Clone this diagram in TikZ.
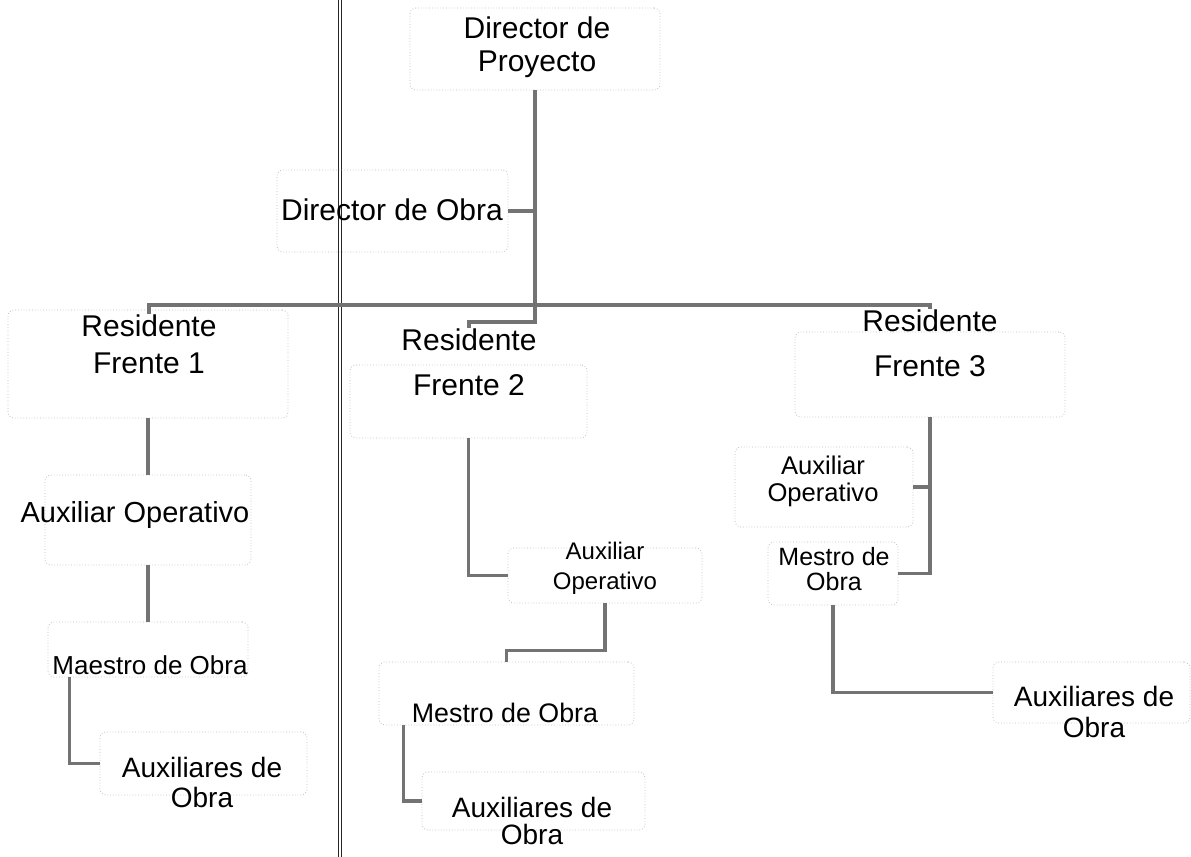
\documentclass[tikz,border=0pt]{standalone}
\usepackage{fontspec}
\setmainfont{Liberation Sans}
\usepackage{tikz}
\usepackage{xcolor}

\begin{document}
\begin{tikzpicture}[x=0.5pt, y=-0.5pt,
        box/.style={draw=gray!50, densely dotted, rounded corners=3pt, inner sep=0pt},
        lbl/.style={inner sep=0pt, align=center, text=black},
        link/.style={draw=black!55, line width=1.6pt}]
    \useasboundingbox (0,0) rectangle (1191,857);
    % divider
    \draw[black!85, double, line width=0.7pt, double distance=0.9pt] (340,0) -- (340,857);

    % boxes
    \node[box, minimum width=125pt, minimum height=41pt] (dpBox) at (535,49) {};
    \node[box, minimum width=115.5pt, minimum height=41pt] (doBox) at (392.5,211) {};
    \node[box, minimum width=140pt, minimum height=54pt] (r1Box) at (148,364) {};
    \node[box, minimum width=103pt, minimum height=45pt] (a1Box) at (148,520) {};
    \node[box, minimum width=100pt, minimum height=27.5pt] (m1Box) at (148,649.5) {};
    \node[box, minimum width=103.5pt, minimum height=31.5pt] (x1Box) at (203.5,763.5) {};
    \node[box, minimum width=118.5pt, minimum height=36.5pt] (r2Box) at (468.5,401.5) {};
    \node[box, minimum width=97pt, minimum height=27.5pt] (a2Box) at (605,575.5) {};
    \node[box, minimum width=127.5pt, minimum height=31.5pt] (m2Box) at (506.5,693.5) {};
    \node[box, minimum width=111.5pt, minimum height=29pt] (x2Box) at (533.5,801) {};
    \node[box, minimum width=135pt, minimum height=42.5pt] (r3Box) at (930,374.5) {};
    \node[box, minimum width=89pt, minimum height=40pt] (a3Box) at (824,487) {};
    \node[box, minimum width=65pt, minimum height=31.5pt] (m3Box) at (833,573.5) {};
    \node[box, minimum width=98.5pt, minimum height=30.5pt] (x3Box) at (1091.5,692.5) {};

    % texts
    \node[lbl, font=\fontsize{15}{16.5}\selectfont] (dpTxt) at (537,47) {Director de\\Proyecto};
    \node[lbl, font=\fontsize{15}{18}\selectfont] (doTxt) at (392,210) {Director de Obra};
    \node[lbl, font=\fontsize{15}{18.5}\selectfont] (r1Txt) at (149,344) {Residente\\Frente 1};
    \node[lbl, font=\fontsize{15}{22.5}\selectfont] (r2Txt) at (469,362) {Residente\\Frente 2};
    \node[lbl, font=\fontsize{15}{22.5}\selectfont] (r3Txt) at (930,343) {Residente\\Frente 3};
    \node[lbl, font=\fontsize{14.5}{17}\selectfont] (a1Txt) at (135,515) {Auxiliar Operativo};
    \node[lbl, font=\fontsize{13}{15}\selectfont] (m1Txt) at (150,665) {Maestro de Obra};
    \node[lbl, font=\fontsize{14}{15}\selectfont] (x1Txt) at (202,782) {Auxiliares de\\Obra};
    \node[lbl, font=\fontsize{12}{15}\selectfont] (a2Txt) at (605,568) {Auxiliar\\Operativo};
    \node[lbl, font=\fontsize{13.4}{15}\selectfont] (m2Txt) at (505,713) {Mestro de Obra};
    \node[lbl, font=\fontsize{14}{13.5}\selectfont] (x2Txt) at (532,821) {Auxiliares de\\Obra};
    \node[lbl, font=\fontsize{12.8}{13.5}\selectfont] (a3Txt) at (823,481) {Auxiliar\\Operativo};
    \node[lbl, font=\fontsize{12.5}{12.5}\selectfont] (m3Txt) at (834,569) {Mestro de\\Obra};
    \node[lbl, font=\fontsize{14}{15.5}\selectfont] (x3Txt) at (1094,712) {Auxiliares de\\Obra};

    % connectors
    \coordinate (barMid) at (535,305);
    \draw[link] (dpBox.south) -- (535,322) -| (r2Txt.north);
    \draw[link] (doBox.east) -- (doBox.east -| dpBox.south);
    \draw[link] (r1Txt.north) |- (barMid) -| (r3Txt.north);
    \draw[link] (r1Box) -- (a1Box);
    \draw[link] (a1Box) -- (m1Box);
    \draw[link] ([xshift=11pt]m1Box.south west) |- (x1Box.west);
    \draw[link] (r2Box.south) |- (a2Box.west);
    \draw[link] (a2Box.south) -- ++(0,47) -| (m2Box.north);
    \draw[link] ([xshift=12.5pt]m2Box.south west) |- (x2Box.west);
    \draw[link] (r3Box.south) |- (m3Box.east);
    \draw[link] (a3Box.east) -- (a3Box.east -| r3Box.south);
    \draw[link] (m3Box.south) |- (x3Box.west);
\end{tikzpicture}
\end{document}
